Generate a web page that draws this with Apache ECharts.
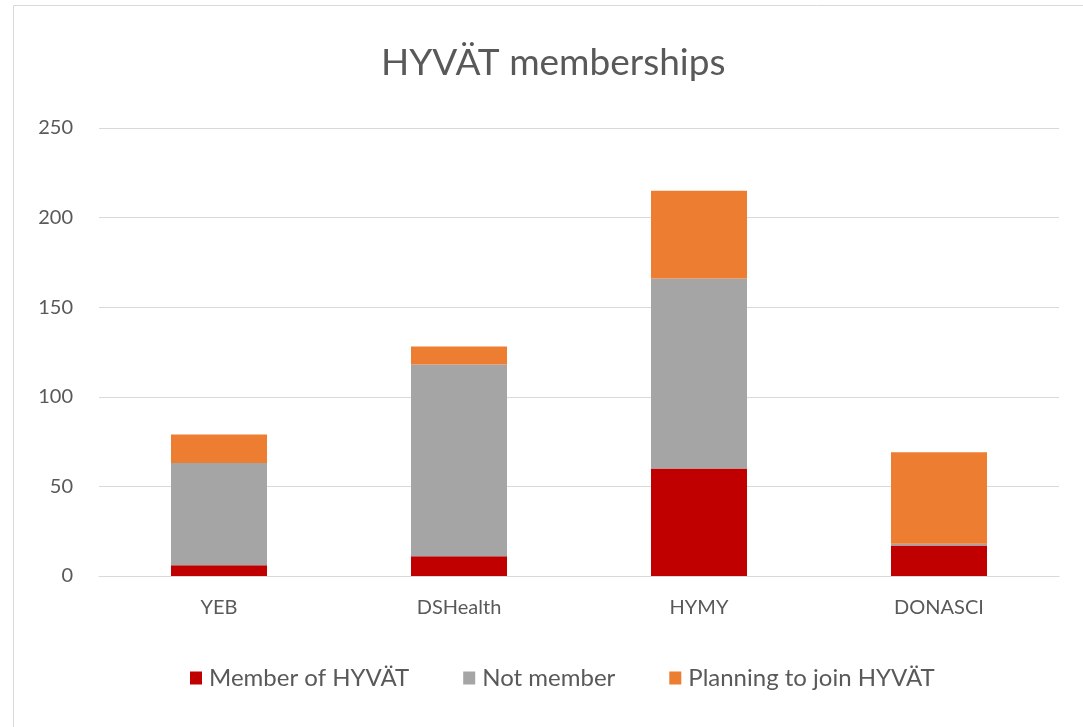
<!DOCTYPE html>
<html>
<head>
<meta charset="utf-8">
<script src="https://cdn.jsdelivr.net/npm/echarts@6/dist/echarts.min.js"></script>
<style>
  html, body { margin: 0; padding: 0; background: #fff; }
  #chart { width: 1083px; height: 727px; }
</style>
</head>
<body>
<div id="chart"></div>
<script>
const categories = ['YEB', 'DSHealth', 'HYMY', 'DONASCI']
const memberData = [6, 11, 60, 17]
const notMemberData = [57, 107, 106, 1]
const planningData = [16, 10, 49, 51]
const yTicks = [0, 50, 100, 150, 200, 250]

const chart = echarts.init(document.getElementById('chart'))

const labelFont = 'Lato, "Noto Sans", sans-serif'

const option = {
  backgroundColor: '#fff',
  animation: false,
  graphic: [
    {
      // chart area border
      type: 'rect',
      shape: { x: 13.5, y: 5.5, width: 1100, height: 760 },
      style: { fill: 'none', stroke: '#d9d9d9', lineWidth: 1 }
    }
  ],
  title: {
    text: 'HYVÄT memberships',
    left: 376,
    top: 40,
    textStyle: {
      color: '#595959',
      fontFamily: labelFont,
      fontWeight: 'normal',
      fontSize: 37
    }
  },
  grid: {
    left: 99,
    right: 24,
    top: 128,
    bottom: 151
  },
  legend: {
    bottom: 32,
    left: 185,
    itemWidth: 12,
    itemHeight: 13,
    itemGap: 54,
    icon: 'rect',
    textStyle: {
      color: '#595959',
      fontFamily: labelFont,
      fontSize: 24,
      padding: [0, 0, 0, 2]
    }
  },
  xAxis: {
    type: 'category',
    data: categories,
    axisLine: { lineStyle: { color: '#d9d9d9' } },
    axisTick: { show: false },
    axisLabel: {
      color: '#595959',
      fontFamily: labelFont,
      fontSize: 20,
      margin: 22
    }
  },
  yAxis: {
    type: 'value',
    min: 0,
    max: 250,
    interval: 50,
    axisLine: { show: false },
    axisTick: { show: false },
    axisLabel: {
      color: '#595959',
      fontFamily: labelFont,
      fontSize: 20,
      margin: 26,
      formatter: (v) => yTicks.includes(v) ? String(v) : ''
    },
    splitLine: {
      lineStyle: { color: '#d9d9d9', width: 1 }
    }
  },
  series: [
    {
      name: 'Member of HYVÄT',
      type: 'bar',
      stack: 'total',
      barWidth: '40%',
      data: memberData,
      itemStyle: { color: '#c00000' }
    },
    {
      name: 'Not member',
      type: 'bar',
      stack: 'total',
      data: notMemberData,
      itemStyle: { color: '#a5a5a5' }
    },
    {
      name: 'Planning to join HYVÄT',
      type: 'bar',
      stack: 'total',
      data: planningData,
      itemStyle: { color: '#ed7d31' }
    }
  ]
}

chart.setOption(option)
</script>
</body>
</html>
